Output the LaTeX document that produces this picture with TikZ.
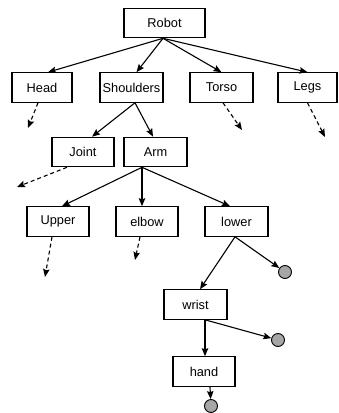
\documentclass[tikz,border=0pt]{standalone}
\usepackage{fontspec}
\setmainfont{Liberation Sans}
\usetikzlibrary{arrows.meta}
\tikzset{
  >={Stealth[length=8pt,width=6.5pt,inset=1.2pt]},
  % träd
  bx/.style={rectangle,draw=black,fill=white,line width=1.1pt,inner sep=0pt,
             minimum width=62pt,minimum height=29.5pt,
             font=\fontsize{12.8}{15}\selectfont},
  ed/.style={->,draw=black,line width=1.1pt},
  dd/.style={->,draw=black,line width=1.1pt,dash pattern=on 4pt off 3pt},
  leaf/.style={circle,draw=black,fill=black!35,line width=0.9pt,inner sep=0pt,
               minimum size=13pt},
}
\begin{document}
\begin{tikzpicture}[x=1pt,y=-1pt]
\useasboundingbox (0,0) rectangle (339,413);
  \node[bx,minimum width=81pt] (robot) at (164.5,23) {Robot};
  \node[bx,minimum width=60pt] (head) at (42,87.5) {Head};
  \node[bx,minimum width=63pt] (shoulders) at (131.5,87.5) {Shoulders};
  \node[bx,minimum width=63pt] (torso) at (221.5,87.5) {Torso};
  \node[bx,minimum width=59pt] (legs) at (307.5,87.5) {Legs};
  \node[bx] (joint) at (83,152) {Joint};
  \node[bx,minimum width=63pt] (arm) at (155.5,152) {Arm};
  \node[bx] (upper) at (58,221.5) {Upper};
  \node[bx] (elbow) at (147,221.5) {elbow};
  \node[bx,minimum width=63pt] (lower) at (236.5,221.5) {lower};
  \node[bx,minimum width=63pt] (wrist) at (195.5,304.5) {wrist};
  \node[bx] (hand) at (204,371.5) {hand};
  \node[leaf] (leafl) at (285,272) {};
  \node[leaf] (leafw) at (278,340) {};
  \node[leaf] (leafh) at (211,406) {};
  % lösa ändar
  \coordinate (headend) at (28,128);
  \coordinate (torsoend) at (242,130);
  \coordinate (legsend) at (325,137);
  \coordinate (jointend) at (17,187);
  \coordinate (upperend) at (45,277);
  \coordinate (elbowend) at (135,260);
  \draw[ed] ([xshift=-1.5pt]robot.south) -- ([xshift=6pt]head.north);
  \draw[ed] ([xshift=-1.5pt]robot.south) -- ([xshift=5pt]shoulders.north);
  \draw[ed] ([xshift=-1.5pt]robot.south) -- (torso.north);
  \draw[ed] ([xshift=-1.5pt]robot.south) -- (legs.north);
  \draw[dd] ([xshift=-4pt]head.south) -- (headend);
  \draw[dd] ([xshift=1.5pt]torso.south) -- (torsoend);
  \draw[dd] (legs.south) -- (legsend);
  \draw[ed] ([xshift=3.5pt]shoulders.south) -- ([xshift=9pt]joint.north);
  \draw[ed] ([xshift=3.5pt]shoulders.south) -- ([xshift=-2.5pt]arm.north);
  \draw[dd] ([xshift=-16pt]joint.south) -- (jointend);
  \draw[ed] ([xshift=-13.5pt]arm.south) -- ([xshift=4pt]upper.north);
  \draw[ed] ([xshift=-13.5pt]arm.south) -- ([xshift=-5pt]elbow.north);
  \draw[ed] ([xshift=-13.5pt]arm.south) -- ([xshift=-6.5pt]lower.north);
  \draw[dd] ([xshift=-6pt]upper.south) -- (upperend);
  \draw[dd] ([xshift=-7pt]elbow.south) -- (elbowend);
  \draw[ed] ([xshift=-1.5pt]lower.south) -- ([xshift=4.5pt]wrist.north);
  \draw[ed] ([xshift=-1.5pt]lower.south) -- (leafl);
  \draw[ed] ([xshift=9.5pt]wrist.south) -- (leafw);
  \draw[ed] ([xshift=9.5pt]wrist.south) -- ([xshift=1pt]hand.north);
  \draw[ed] ([xshift=6pt]hand.south) -- (leafh);
\end{tikzpicture}
\end{document}
